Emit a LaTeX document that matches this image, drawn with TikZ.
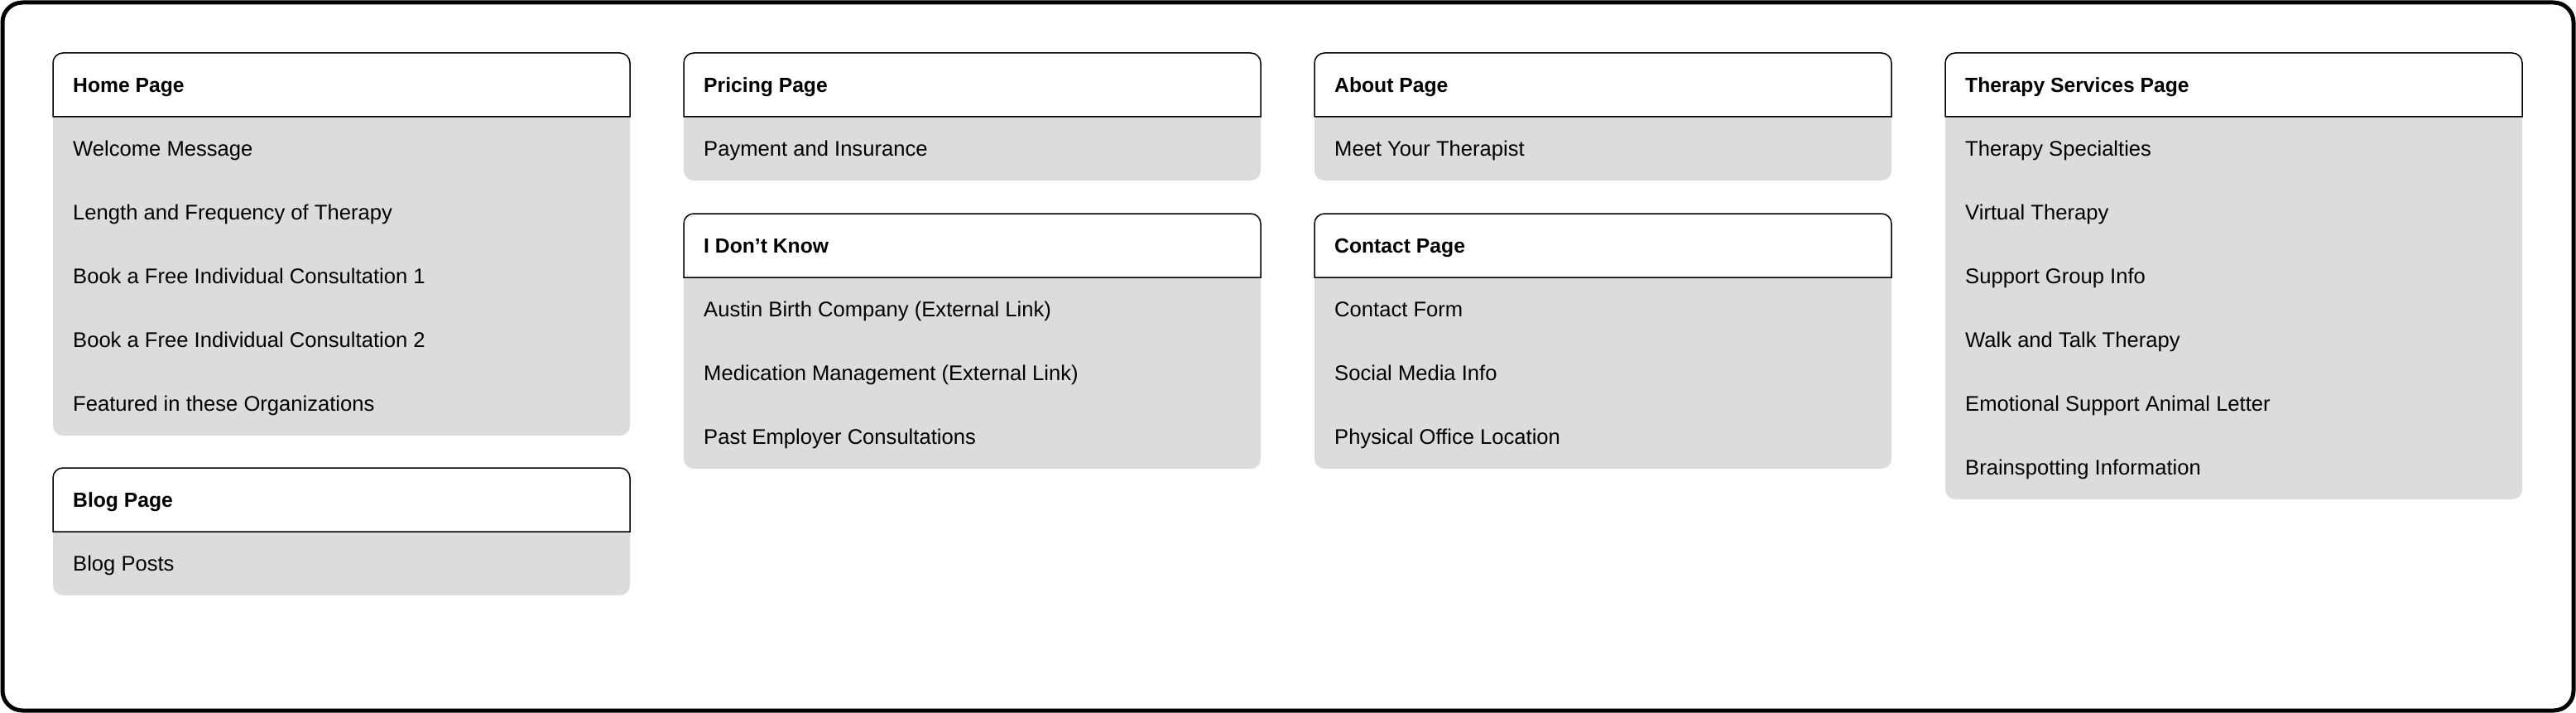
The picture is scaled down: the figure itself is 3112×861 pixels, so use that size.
\documentclass[tikz,border=0pt]{standalone}
\usepackage{fontspec}
\setmainfont{Liberation Sans}
\definecolor{bodygray}{RGB}{220,220,220}
\tikzset{
  hdr/.style={fill=white, draw=black, line width=1.5pt},
  cardtitle/.style={anchor=base west, inner sep=0pt, font=\bfseries\fontsize{24.7}{30}\selectfont},
  carditem/.style={anchor=base west, inner sep=0pt, font=\fontsize{25.6}{30}\selectfont},
}
% #1 id, #2 x, #3 y top, #4 number of items, #5 title, #6 items
\newcommand{\mkcard}[6]{%
  \pgfmathsetmacro\cardbot{#3+77+77*#4}%
  \fill[bodygray, rounded corners=12pt] (#2,#3) rectangle (#2+697,\cardbot);
  \draw[hdr] (#2,#3+77) -- (#2,#3+12) arc[start angle=180,end angle=90,radius=12pt]
     -- (#2+685,#3) arc[start angle=90,end angle=0,radius=12pt] -- (#2+697,#3+77) -- cycle;
  \node[cardtitle] (#1) at (#2+24,#3+47.5) {#5};
  \foreach \t [count=\i] in {#6} {
    \node[carditem] (#1-\i) at (#2+24,#3+77+77*\i-29.5) {\t};
  }
}
\begin{document}
\begin{tikzpicture}[x=1pt,y=-1pt]
\useasboundingbox (0,0) rectangle (3112,861);
\draw[line width=5pt, rounded corners=24pt] (3,3) rectangle (3109,858);
\mkcard{home}{64}{64}{5}{Home Page}{Welcome Message,Length and Frequency of Therapy,Book a Free Individual Consultation 1,Book a Free Individual Consultation 2,Featured in these Organizations}
\mkcard{blog}{64}{565}{1}{Blog Page}{Blog Posts}
\mkcard{pricing}{826}{64}{1}{Pricing Page}{Payment and Insurance}
\mkcard{idk}{826}{258}{3}{I Don’t Know}{Austin Birth Company (External Link),Medication Management (External Link),Past Employer Consultations}
\mkcard{about}{1588}{64}{1}{About Page}{Meet Your Therapist}
\mkcard{contact}{1588}{258}{3}{Contact Page}{Contact Form,Social Media Info,Physical Office Location}
\mkcard{services}{2350}{64}{6}{Therapy Services Page}{Therapy Specialties,Virtual Therapy,Support Group Info,Walk and Talk Therapy,Emotional Support Animal Letter,Brainspotting Information}
\end{tikzpicture}
\end{document}
